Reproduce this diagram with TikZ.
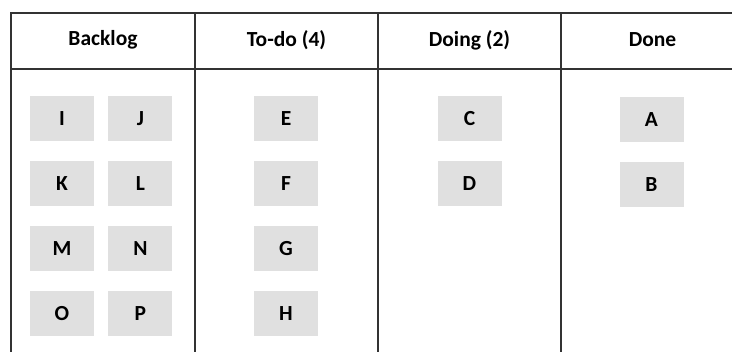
\documentclass[tikz,border=0pt]{standalone}
\usepackage{fontspec}
\setmainfont{Carlito}
\usetikzlibrary{positioning}
\definecolor{cardgray}{HTML}{E0E0E0}
\definecolor{linegray}{HTML}{333333}

\begin{document}
\begin{tikzpicture}[x=1pt, y=-1pt, font=\bfseries\fontsize{21.5}{24}\selectfont,
  node distance=19.5pt and 14pt,
  card/.style={fill=cardgray, minimum width=64pt, minimum height=45pt, inner sep=0pt},
  head/.style={inner sep=0pt},
  board/.style={draw=linegray, line width=1.8pt}]
\useasboundingbox (0,0) rectangle (732,352);
\clip (0,0) rectangle (732,352);
% board lines
\draw[board] (11,360) -- (11,13) -- (745,13);
\draw[board] (11,69) -- (745,69);
\foreach \x in {195,378,561} \draw[board] (\x,13) -- (\x,360);
% column heads
\node[head] (backlog) at (103,40) {Backlog};
\node[head] (todo) at (286.5,40) {To-do (4)};
\node[head] (doing) at (469.5,40) {Doing (2)};
\node[head] (done) at (652.5,40) {Done};
% backlog
\node[card] (I) at (62,118.5) {I};
\node[card, right=of I] (J) {J};
\node[card, below=of I] (K) {K};
\node[card, right=of K] (L) {L};
\node[card, below=of K] (M) {M};
\node[card, right=of M] (N) {N};
\node[card, below=of M] (O) {O};
\node[card, right=of O] (P) {P};
% to-do
\node[card] (E) at (286,118.5) {E};
\node[card, below=of E] (F) {F};
\node[card, below=of F] (G) {G};
\node[card, below=of G] (H) {H};
% doing
\node[card] (C) at (469.5,118.5) {C};
\node[card, below=of C] (D) {D};
% done
\node[card] (A) at (651.5,120) {A};
\node[card, below=of A] (B) {B};
\end{tikzpicture}
\end{document}
